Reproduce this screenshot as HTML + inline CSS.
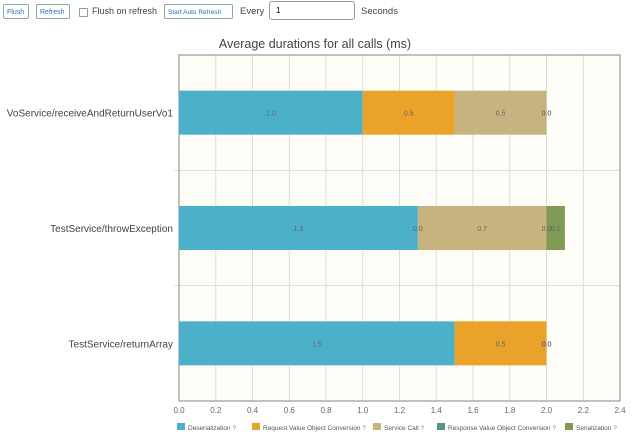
<!DOCTYPE html>
<html><head><meta charset="utf-8"><style>
body{margin:0;width:640px;height:440px;background:#fff;font-family:"Liberation Sans",sans-serif;position:relative;overflow:hidden}
.btn{position:absolute;top:4px;height:15px;border:1px solid #8aa;border-radius:2px;font-size:7px;color:#2a6fb0;line-height:15px;padding:0 3px;background:#fff;box-sizing:border-box;white-space:nowrap}
.lbl{position:absolute;top:6px;font-size:9.5px;color:#444;white-space:nowrap}
</style></head><body>
<div class="btn" style="left:3px;width:26px">Flush</div>
<div class="btn" style="left:36px;width:34px">Refresh</div>
<div style="position:absolute;left:79px;top:8px;width:7px;height:7px;border:1px solid #999;border-radius:1px"></div>
<div class="lbl" style="left:92px;font-size:9px">Flush on refresh</div>
<div class="btn" style="left:164px;width:69px;font-size:6.5px">Start Auto Refresh</div>
<div class="lbl" style="left:240px">Every</div>
<div style="position:absolute;left:269px;top:1px;width:86px;height:19px;border:1px solid #999;border-radius:3px;box-sizing:border-box;font-size:8px;line-height:17px;padding-left:6px">1</div>
<div class="lbl" style="left:361px">Seconds</div>
<svg id="chart" width="640" height="440" style="position:absolute;left:0;top:0"></svg>
<script>
const categories=["VoService/receiveAndReturnUserVo1","TestService/throwException","TestService/returnArray"];
const seriesNames=["Deserialization","Request Value Object Conversion","Service Call","Response Value Object Conversion","Serialization"];
const deserialization=[1.0,1.3,1.5];
const requestConversion=[0.5,0.0,0.5];
const serviceCall=[0.5,0.7,0.0];
const responseConversion=[0.0,0.0,0.0];
const serialization=[0.0,0.1,0.0];
const xTicks=[0,0.2,0.4,0.6,0.8,1.0,1.2,1.4,1.6,1.8,2.0,2.2,2.4];
const colors=["#4bb0c8","#eba22a","#c6b37f","#4f9a7e","#7f9a55"];
const series=[deserialization,requestConversion,serviceCall,responseConversion,serialization];
const NS="http://www.w3.org/2000/svg";
const svg=document.getElementById('chart');
const L=179,R=620,T=55,B=401,xMax=2.4;
const x=v=>L+v/xMax*(R-L);
const rowH=(B-T)/categories.length;
const y=i=>T+rowH*(i+0.5);
function mk(tag,a,p){const e=document.createElementNS(NS,tag);for(const k in a)e.setAttribute(k,a[k]);(p||svg).appendChild(e);return e;}
const bg=mk('rect',{x:L,y:T,width:R-L,height:B-T,fill:'#fffdf7'});


xTicks.forEach(t=>{
 const g=mk('line',{x1:x(t),x2:x(t),y1:T,y2:B,stroke:'#ddd','stroke-width':1});
 
 
 const tx=mk('text',{x:x(t),y:B+12,'font-size':8,fill:'#666','text-anchor':'middle'});
 tx.textContent=t.toFixed(1);
 
 
});
for(let i=1;i<categories.length;i++){
 const g=mk('line',{x1:L-5,x2:R,y1:T+rowH*i,y2:T+rowH*i,stroke:'#ddd','stroke-width':1});
 
 
}
const fr=mk('rect',{x:L,y:T,width:R-L,height:B-T,fill:'none',stroke:'#999','stroke-width':1.2});


const ttl=mk('text',{x:315,y:48,'font-size':12.5,fill:'#444','text-anchor':'middle'});
ttl.textContent="Average durations for all calls (ms)";


const bh=44;
categories.forEach((c,i)=>{
 const cl=mk('text',{x:173,y:y(i)+4,'font-size':10,fill:'#444','text-anchor':'end'});
 cl.textContent=c;
 
 
 let acc=0;const labels=[];
 series.forEach((s,k)=>{
  const v=s[i];
  const r=mk('rect',{x:x(acc),y:y(i)-bh/2,width:x(acc+v)-x(acc),height:bh,fill:colors[k]});
  
  
  labels.push([x(acc+v/2),v]);
  acc+=v;
 });
 labels.forEach(([px,v])=>{
  const t=mk('text',{x:px,y:y(i)+3,'font-size':7,fill:'#666','text-anchor':'middle'});
  t.textContent=v.toFixed(1);
  
  
 });
});
const lx=[177,252,373,437,565];
seriesNames.forEach((n,k)=>{
 const sw=mk('rect',{x:lx[k],y:423,width:8,height:7,fill:colors[k]});
 
 
 const t=mk('text',{x:lx[k]+11,y:430,'font-size':6.5,fill:'#555'});
 t.textContent=n+" ";
 const q=mk('tspan',{fill:'#3a9ad0'},t);q.textContent="?";
 
 
});
</script>
</body></html>
